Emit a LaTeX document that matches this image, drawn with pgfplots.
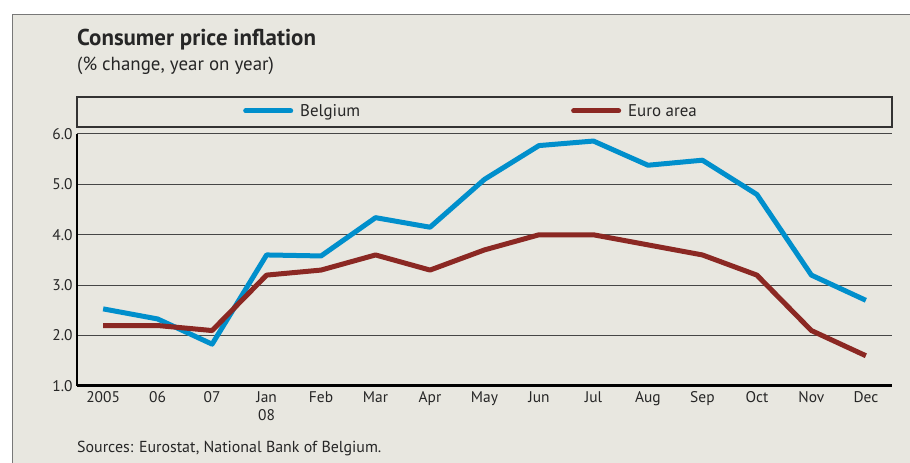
\documentclass[border=0pt]{standalone}
\usepackage{fontspec}
\setmainfont{PT Sans}
\usepackage{pgfplots}
\pgfplotsset{compat=1.18}
\definecolor{bgbeige}{RGB}{232,231,224}
\definecolor{belblue}{RGB}{0,143,204}
\definecolor{eurored}{RGB}{139,40,35}
\definecolor{gridgray}{RGB}{70,70,70}
\definecolor{framegray}{RGB}{120,120,120}

\begin{document}
\begin{tikzpicture}[x=1bp,y=1bp]
  \useasboundingbox (0,0) rectangle (910,463);
  \fill[white] (0,0) rectangle (910,463);
  \fill[bgbeige] (12,0) rectangle (910,449);
  \draw[framegray, line width=1.5bp] (12.5,0) -- (12.5,448.5) -- (910,448.5);
  \node[anchor=base west, font=\fontsize{23}{26}\selectfont\bfseries, text=black!85, inner sep=0]
    at (77,417) {Consumer price inflation};
  \node[anchor=base west, font=\fontsize{19}{22}\selectfont, text=black!85, inner sep=0]
    at (77,392) {(\% change, year on year)};
  \draw[black!80, line width=1.2bp] (77,336) rectangle (892,366);
  \node[anchor=base west, font=\fontsize{16}{18}\selectfont, text=black!85, inner sep=0]
    at (77,10) {Sources: Eurostat, National Bank of Belgium.};
  \begin{axis}[
    at={(77bp,77bp)}, anchor=south west, scale only axis,
    width=815bp, height=252bp,
    xmin=-0.48, xmax=14.48, ymin=1, ymax=6,
    xtick={0,...,14},
    xticklabels={2005,06,07,{Jan\\08},Feb,Mar,Apr,May,Jun,Jul,Aug,Sep,Oct,Nov,Dec},
    ytick={1,2,3,4,5,6},
    yticklabel style={/pgf/number format/fixed, /pgf/number format/fixed zerofill,
      /pgf/number format/precision=1, xshift=-1bp},
    /pgf/number format/assume math mode=true,
    tick label style={font=\fontsize{15.5}{18}\selectfont, text=black!85},
    x tick label style={align=center, yshift=-2bp},
    major tick length=0pt,
    axis x line*=bottom, axis y line*=left,
    x axis line style={black, line width=3bp, -},
    y axis line style={black, line width=2.5bp, -},
    ymajorgrids, grid style={gridgray, line width=1bp},
    legend columns=2,
    legend style={draw=none, fill=none, at={(163bp,275bp)}, anchor=west,
      font=\fontsize{17}{19}\selectfont, text=black!85,
      /tikz/every odd column/.append style={column sep=5bp},
      /tikz/every even column/.append style={column sep=209bp}},
    legend cell align=left,
    legend image code/.code={\draw[#1, line width=5bp, line cap=round] (0bp,0bp) -- (45bp,0bp);},
  ]
    \addplot[belblue, line width=5bp, line join=round] coordinates {
      (0,2.53)(1,2.33)(2,1.83)(3,3.60)(4,3.58)(5,4.34)(6,4.15)(7,5.10)
      (8,5.77)(9,5.86)(10,5.38)(11,5.48)(12,4.80)(13,3.20)(14,2.70)};
    \addplot[eurored, line width=5bp, line join=round] coordinates {
      (0,2.20)(1,2.20)(2,2.10)(3,3.20)(4,3.30)(5,3.60)(6,3.30)(7,3.70)
      (8,4.00)(9,4.00)(10,3.80)(11,3.60)(12,3.20)(13,2.10)(14,1.60)};
    \legend{Belgium, Euro area}
  \end{axis}
\end{tikzpicture}
\end{document}
